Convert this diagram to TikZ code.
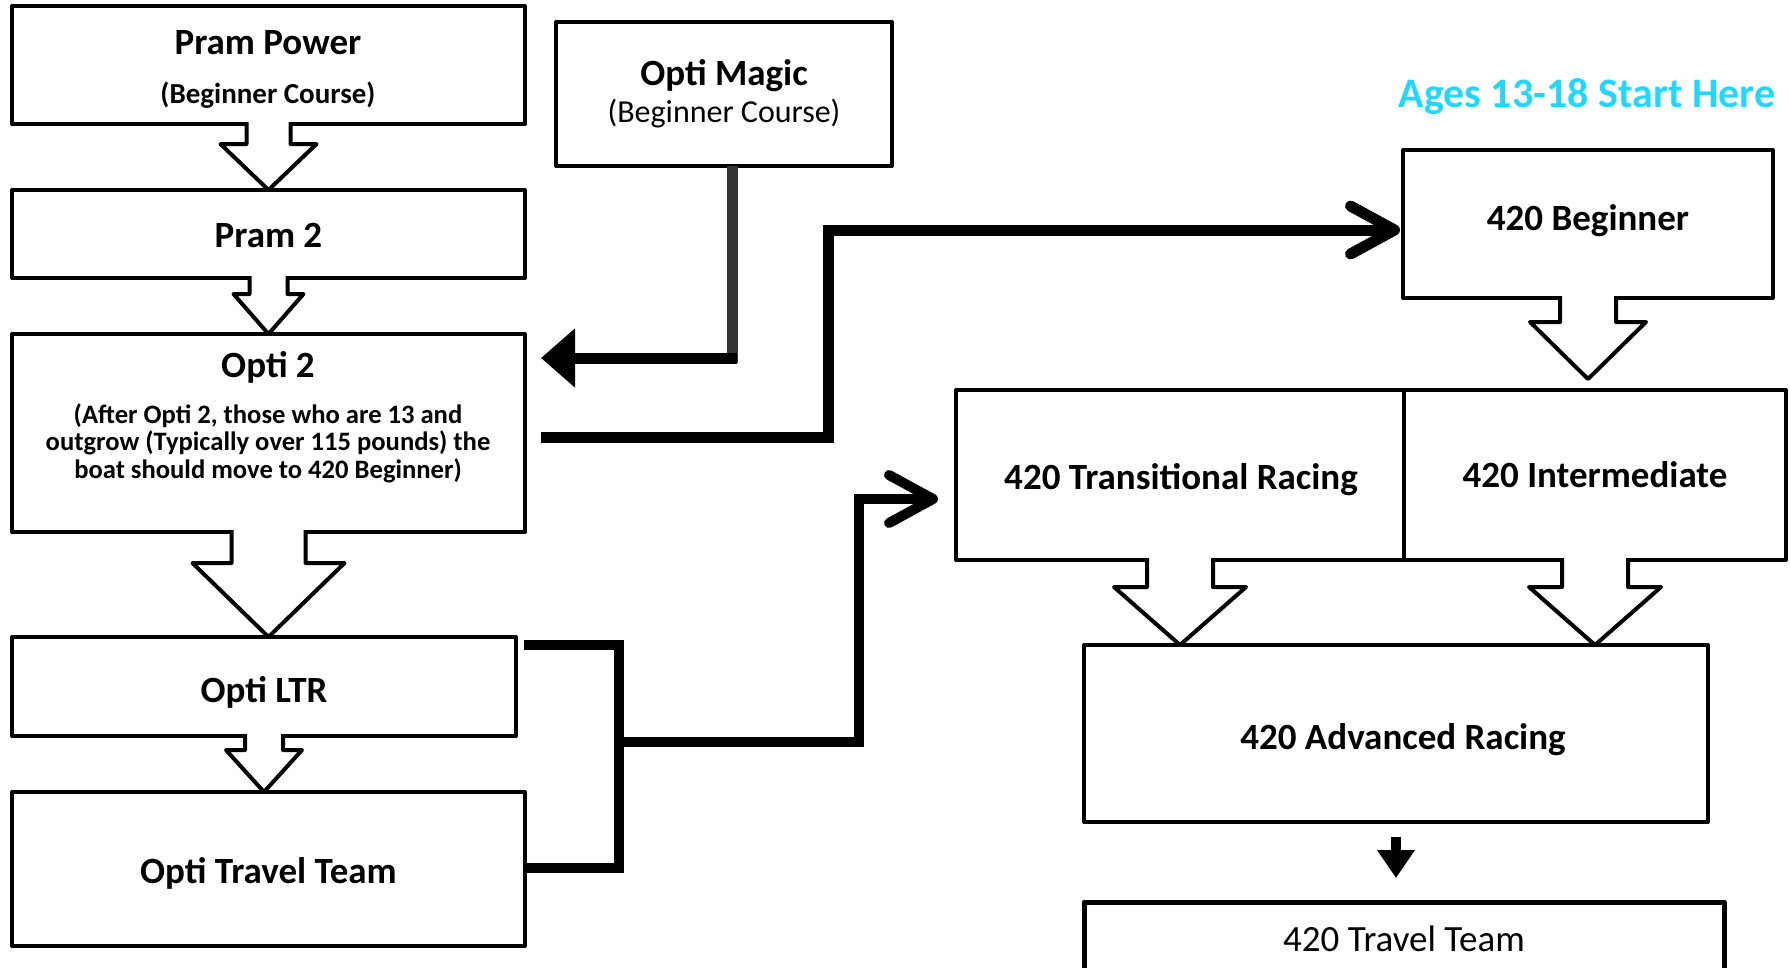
\documentclass[tikz,border=0pt]{standalone}
\usepackage{fontspec}
\setmainfont{Carlito}
\usetikzlibrary{arrows.meta,calc}
\definecolor{agecyan}{RGB}{32,216,255}
\definecolor{connectorgray}{RGB}{51,51,51}

\newcommand{\blockarrow}[5]{%
  \path[fill=white] let \p1=(#1.south), \p2=(#2) in
    (\x1-#3,\y1+3pt) -- (\x1-#3,\y1-#5) -- (\x1-#4,\y1-#5) -- (\x1,\y2) --
    (\x1+#4,\y1-#5) -- (\x1+#3,\y1-#5) -- (\x1+#3,\y1+3pt) -- cycle;
  \draw[outlinearrow] let \p1=(#1.south), \p2=(#2) in
    (\x1-#3,\y1+2pt) -- (\x1-#3,\y1-#5) -- (\x1-#4,\y1-#5) -- (\x1,\y2) --
    (\x1+#4,\y1-#5) -- (\x1+#3,\y1-#5) -- (\x1+#3,\y1+2pt);
}

\begin{document}
\begin{tikzpicture}[x=1pt,y=-1pt,
  box/.style={draw=black, line width=4pt, line join=round, fill=white,
    inner sep=0pt, outer sep=0pt, align=center,
    font=\fontsize{37}{44}\selectfont\bfseries},
  outlinearrow/.style={draw=black, line width=4pt, line join=round},
  boldlabel/.style={inner sep=0pt, font=\fontsize{37}{44}\selectfont\bfseries},
  thickline/.style={draw=black, line width=11pt},
  bracketline/.style={draw=black, line width=10pt},
  grayline/.style={draw=connectorgray, line width=11pt},
  barb/.style={-{Straight Barb[length=44pt,width=48pt,round]}},
]
\useasboundingbox (0,0) rectangle (1790,967);

% ---------- left column ----------
\node[box, minimum width=513pt, minimum height=118pt] (pp) at (268.5,65) {};
\node[boldlabel] (pptitle) at (268,43) {Pram Power};
\node[inner sep=0pt, font=\fontsize{29}{35}\selectfont\bfseries] (ppsub) at (268,95) {(Beginner Course)};

\node[box, minimum width=513pt, minimum height=88pt] (pr2) at (268.5,234) {};
\node[boldlabel] (pr2t) at (268.5,235) {Pram 2};

\node[box, minimum width=513pt, minimum height=198pt] (o2) at (268.5,433) {};
\node[boldlabel] (o2title) at (268,367) {Opti 2};
\node[inner sep=0pt, align=center, font=\fontsize{26.6}{27.5}\selectfont\bfseries] (o2text) at (268,443)
  {(After Opti 2, those who are 13 and\\outgrow (Typically over 115 pounds) the\\boat should move to 420 Beginner)};

\node[box, minimum width=504pt, minimum height=99pt] (ltr) at (264,686.5) {};
\node[boldlabel] (ltrt) at (264,692.5) {Opti LTR};
\node[box, minimum width=513pt, minimum height=154pt] (ott) at (268.5,869) {};
\node[boldlabel] (ottt) at (268.5,873) {Opti Travel Team};

% ---------- Opti Magic ----------
\node[box, minimum width=336pt, minimum height=144pt] (om) at (724,94) {};
\node[boldlabel] (omtitle) at (724,76) {Opti Magic};
\node[inner sep=0pt, font=\fontsize{32}{38}\selectfont] (omsub) at (724,114) {(Beginner Course)};

% ---------- 420 column ----------
\node[inner sep=0pt, text=agecyan, font=\fontsize{42}{50}\selectfont\bfseries] (ages) at (1587,96.5) {Ages 13-18 Start Here};
\node[box, minimum width=370pt, minimum height=148pt] (b420) at (1588,224) {};
\node[boldlabel] (b420t) at (1588,220.5) {420 Beginner};
\node[box, minimum width=448pt, minimum height=170pt] (tr) at (1180,475) {};
\node[boldlabel] (trt) at (1181,480) {420 Transitional Racing};
\node[box, minimum width=382pt, minimum height=170pt] (im) at (1595,475) {};
\node[boldlabel] (imt) at (1595,475) {420 Intermediate};
\node[box, minimum width=624pt, minimum height=177pt] (adv) at (1396,733.5) {};
\node[boldlabel] (advt) at (1403,740) {420 Advanced Racing};
\node[box, line width=5pt, minimum width=640pt, minimum height=73pt, font=\fontsize{37}{44}\selectfont] (tt) at (1404,938.5) {420 Travel Team};

% ---------- block arrows ----------
\blockarrow{pp}{pr2.north}{22pt}{48pt}{20pt}
\blockarrow{pr2}{o2.north}{19pt}{35pt}{16pt}
\blockarrow{o2}{ltr.north}{37pt}{76pt}{31pt}
\blockarrow{ltr}{ott.north}{19pt}{38pt}{14pt}
\blockarrow{b420}{$(im.north)+(0,-11)$}{28pt}{58pt}{24pt}
\blockarrow{tr}{adv.north}{33pt}{66pt}{27pt}
\blockarrow{im}{adv.north}{33pt}{66pt}{27pt}

% ---------- connectors ----------
% Opti Magic -> Opti 2
\coordinate (omturn) at (732,358);
\coordinate (o2in) at ($(o2.east |- omturn)+(16,0)$);
\draw[grayline] (om.south -| omturn) -- ($(omturn)+(0,5)$);
\draw[thickline, -{Triangle[length=34pt,width=57pt]}] ($(omturn)+(5,0)$) -- (o2in);

% Opti 2 -> 420 Beginner
\coordinate (o2out) at ($(o2.east)+(16,4)$);
\coordinate (b420in) at ($(b420.west |- 0,230)+(-3,0)$);
\draw[thickline, barb] (o2out) -| (828,230) -- (b420in);

% Opti LTR / Opti Travel Team -> 420 Transitional Racing
\coordinate (ltrout) at ($(ltr.north east)+(8,8)$);
\coordinate (ottout) at (ott.east |- 0,868);
\coordinate (brtop) at (619,645);
\coordinate (brbot) at (619,868);
\coordinate (brmid) at (619,742);
\coordinate (trin) at ($(tr.west |- 0,499)+(-18,0)$);
\draw[bracketline] (ltrout) -- (brtop) -- (brbot) -- (ottout);
\draw[bracketline, barb] (brmid) -- (859,742) -- (859,499) -- (trin);

% 420 Advanced Racing -> 420 Travel Team
\draw[line width=10pt, -{Triangle[length=28pt,width=36pt]}] ($(adv.south)+(0,15)$) -- ($(adv.south)+(0,56)$);
\end{tikzpicture}
\end{document}
